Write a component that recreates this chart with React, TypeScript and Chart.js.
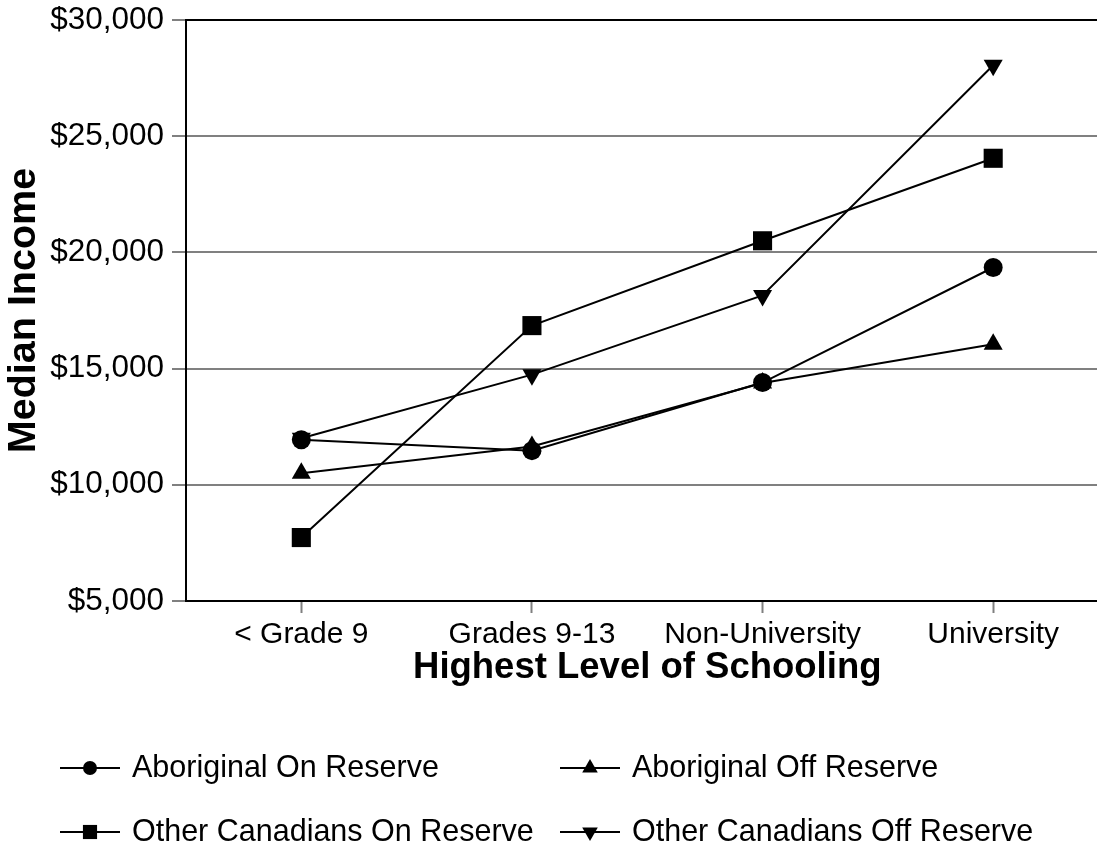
import React, { useEffect, useRef } from "react";
import { Chart, registerables } from "chart.js";
import { drawPoint } from "chart.js/helpers";

Chart.register(...registerables);

const categories = ["< Grade 9", "Grades 9-13", "Non-University", "University"];
const aboriginalOnReserve = [11940, 11470, 14400, 19350];
const aboriginalOffReserve = [10500, 11650, 14380, 16050];
const otherCanadiansOnReserve = [7730, 16850, 20500, 24050];
const otherCanadiansOffReserve = [12000, 14740, 18150, 28050];
const seriesNames = [
  "Aboriginal On Reserve",
  "Aboriginal Off Reserve",
  "Other Canadians On Reserve",
  "Other Canadians Off Reserve",
];
const yMin = 5000;
const yMax = 30000;
const yStep = 5000;

const FONT = '"Liberation Sans", Arial, sans-serif';
const CANVAS_W = 1122;

const markers = [
  { pointStyle: "circle", radius: 9.5, rotation: 0, legendRadius: 7 },
  { pointStyle: "triangle", radius: 11, rotation: 0, legendRadius: 9 },
  { pointStyle: "rect", radius: 13.5, rotation: 0, legendRadius: 10 },
  { pointStyle: "triangle", radius: 11, rotation: 180, legendRadius: 9 },
];

const legendPlugin = {
  id: "customLegend",
  afterDraw(chart: any) {
    const ctx = chart.ctx;
    const cols = [60, 560];
    const rows = [768, 832];
    chart.data.datasets.forEach((ds: any, i: number) => {
      const x0 = cols[i % 2];
      const y = rows[Math.floor(i / 2)];
      ctx.save();
      ctx.strokeStyle = "#000";
      ctx.lineWidth = 2;
      ctx.beginPath();
      ctx.moveTo(x0, y);
      ctx.lineTo(x0 + 60, y);
      ctx.stroke();
      ctx.fillStyle = "#000";
      drawPoint(
        ctx,
        {
          pointStyle: markers[i].pointStyle as any,
          radius: markers[i].legendRadius,
          rotation: markers[i].rotation,
          borderWidth: 0,
        },
        x0 + 30,
        y
      );
      ctx.font = `30.5px ${FONT}`;
      ctx.textBaseline = "middle";
      ctx.textAlign = "left";
      ctx.fillStyle = "#000";
      ctx.fillText(ds.label, x0 + 72, y + 1);
      ctx.restore();
    });
  },
};

export default function App() {
  const ref = useRef<HTMLCanvasElement | null>(null);

  useEffect(() => {
    if (!ref.current) return;
    const seriesData = [
      aboriginalOnReserve,
      aboriginalOffReserve,
      otherCanadiansOnReserve,
      otherCanadiansOffReserve,
    ];
    const chart = new Chart(ref.current, {
      type: "line",
      data: {
        labels: categories,
        datasets: seriesData.map((d, i) => ({
          label: seriesNames[i],
          data: d,
          borderColor: "#000",
          backgroundColor: "#000",
          borderWidth: 2,
          pointStyle: markers[i].pointStyle as any,
          pointRadius: markers[i].radius,
          pointRotation: markers[i].rotation,
          pointBackgroundColor: "#000",
          pointBorderWidth: 0,
          tension: 0,
          fill: false,
          clip: false as any,
        })),
      },
      options: {
        responsive: false,
        animation: false,
        devicePixelRatio: 1,
        layout: { padding: { top: 20, left: 0, right: 3, bottom: 166 } },
        plugins: {
          legend: { display: false },
          tooltip: { enabled: false },
          title: { display: false },
        },
        scales: {
          x: {
            type: "category",
            offset: true,
            afterFit: (scale: any) => {
              scale.height = 89;
              scale.paddingLeft = 0;
              scale.paddingRight = 0;
            },
            border: { display: true, color: "#000", width: 2 },
            grid: {
              drawOnChartArea: false,
              drawTicks: true,
              tickLength: 12,
              tickColor: "#808080",
              tickWidth: 2,
              offset: false,
            },
            ticks: {
              color: "#000",
              font: { family: FONT, size: 30, lineHeight: 1.0 },
              padding: 7,
              maxRotation: 0,
              autoSkip: false,
            },
            title: {
              display: true,
              text: "Highest Level of Schooling",
              color: "#000",
              font: { family: FONT, size: 36.5, weight: "bold", lineHeight: 1.0 },
              padding: { top: 0, bottom: 4 },
            },
          },
          y: {
            type: "linear",
            min: yMin,
            max: yMax,
            afterFit: (scale: any) => {
              scale.width = 186;
              scale.paddingTop = 0;
              scale.paddingBottom = 0;
            },
            border: { display: true, color: "#000", width: 2 },
            grid: {
              drawOnChartArea: true,
              drawTicks: true,
              tickLength: 14,
              tickColor: "#808080",
              tickWidth: 2,
              lineWidth: 2,
              color: (c: any) => (c.tick && c.tick.value === yMax ? "#000" : "#808080"),
            },
            ticks: {
              stepSize: yStep,
              color: "#000",
              font: { family: FONT, size: 31.5 },
              padding: 8,
              callback: (v: any) => "$" + Number(v).toLocaleString("en-US"),
            },
            title: {
              display: true,
              text: "Median Income",
              color: "#000",
              font: { family: FONT, size: 39.5, weight: "bold", lineHeight: 1.2 },
              padding: { top: 0, bottom: 0 },
            },
          },
        },
      },
      plugins: [legendPlugin],
    });
    return () => chart.destroy();
  }, []);

  return (
    <div
      style={{
        position: "fixed",
        left: 0,
        top: 0,
        width: 1097,
        height: 856,
        overflow: "hidden",
        background: "#fff",
      }}
    >
      <div style={{ width: CANVAS_W, height: 856 }}>
        <canvas
          ref={ref}
          width={CANVAS_W}
          height={856}
          style={{ display: "block", width: CANVAS_W, height: 856 }}
        />
      </div>
    </div>
  );
}
